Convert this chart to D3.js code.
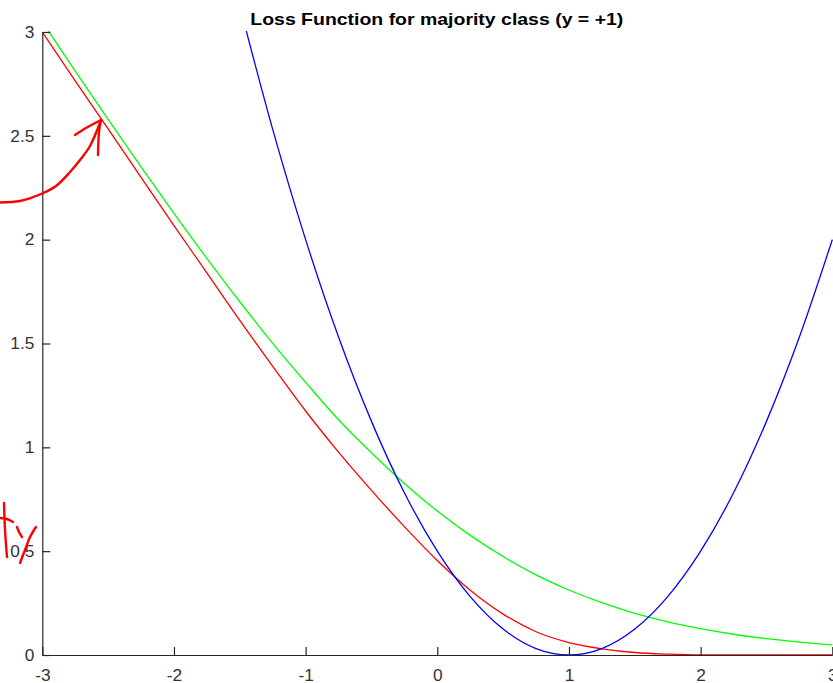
<!DOCTYPE html>
<html>
<head>
<meta charset="utf-8">
<script src="https://cdn.jsdelivr.net/npm/d3@7"></script>
<style>
  html, body { margin: 0; padding: 0; background: #fff; }
  svg { display: block; }
</style>
</head>
<body>
<svg id="chart" width="833" height="683"></svg>
<script>
// Margin (x) values shared by the green and red loss curves
const xs = [-3, -2.75, -2.5, -2.25, -2, -1.75, -1.5, -1.25, -1, -0.75, -0.5, -0.25,
            0, 0.25, 0.5, 0.75, 1, 1.25, 1.5, 1.75, 2, 2.25, 2.5, 2.75, 3];

// Logistic loss (green)
const greenLoss = [3.049, 2.812, 2.579, 2.351, 2.127, 1.910, 1.701, 1.501, 1.313, 1.133, 0.974, 0.826,
                   0.693, 0.576, 0.474, 0.386, 0.313, 0.252, 0.201, 0.160, 0.127, 0.100, 0.079, 0.062, 0.049];

// Modified loss (red)
const redLoss = [3.000, 2.765, 2.533, 2.300, 2.068, 1.840, 1.611, 1.390, 1.175, 0.977, 0.793, 0.618,
                 0.455, 0.312, 0.197, 0.112, 0.060, 0.030, 0.012, 0.004, 0.000, 0.000, 0.000, 0.000, 0.000];

// Squared loss (blue)
const blueX = [-1.5, -1.25, -1, -0.75, -0.5, -0.25, 0, 0.25, 0.5, 0.75, 1,
               1.25, 1.5, 1.75, 2, 2.25, 2.5, 2.75, 3];
const blueLoss = [3.125, 2.531, 2.000, 1.531, 1.125, 0.781, 0.500, 0.281, 0.125, 0.031, 0.000,
                  0.031, 0.125, 0.281, 0.500, 0.781, 1.125, 1.531, 2.000];

const xTicks = [-3, -2, -1, 0, 1, 2, 3];
const yTicks = [0, 0.5, 1, 1.5, 2, 2.5, 3];
const titleText = "Loss Function for majority class (y = +1)";

const svg = d3.select("#chart");
const plotLeft = 42.3, plotRight = 832.3, plotTop = 32, plotBottom = 655;

const x = d3.scaleLinear().domain([-3, 3]).range([plotLeft, plotRight]);
const y = d3.scaleLinear().domain([0, 3]).range([plotBottom, plotTop]);

svg.append("defs").append("clipPath").attr("id", "plot")
  .append("rect").attr("x", plotLeft).attr("y", plotTop - 1)
  .attr("width", plotRight - plotLeft + 2).attr("height", plotBottom - plotTop + 2);

const line = d3.line().x(d => x(d[0])).y(d => y(d[1])).curve(d3.curveMonotoneX);

const series = [
  { xv: xs, yv: greenLoss, color: "#00ff00" },
  { xv: xs, yv: redLoss, color: "#ff0000" },
  { xv: blueX, yv: blueLoss, color: "#0000ff" }
];

const curves = svg.append("g").attr("clip-path", "url(#plot)");
series.forEach(s => {
  curves.append("path")
    .datum(s.xv.map((v, i) => [v, s.yv[i]]))
    .attr("d", line)
    .attr("fill", "none")
    .attr("stroke", s.color)
    .attr("stroke-width", 1.3);
});

// Axes: ticks point inward
const axisColor = "#262626";
const fontFamily = "'Liberation Sans', Arial, Helvetica, sans-serif";

const xAxis = svg.append("g").attr("transform", `translate(0,${plotBottom})`)
  .call(d3.axisBottom(x).tickValues(xTicks).tickSizeInner(-8).tickSizeOuter(0).tickPadding(14.5)
        .tickFormat(d => String(d)));
const yAxis = svg.append("g").attr("transform", `translate(${plotLeft},0)`)
  .call(d3.axisLeft(y).tickValues(yTicks).tickSizeInner(-8).tickSizeOuter(0).tickPadding(8)
        .tickFormat(d => String(d)));

[xAxis, yAxis].forEach(g => {
  g.select(".domain").attr("stroke", axisColor).attr("stroke-width", 1.2);
  g.selectAll(".tick line").attr("stroke", axisColor).attr("stroke-width", 1.2);
  g.selectAll(".tick text").attr("fill", "#333").attr("font-size", 16).attr("font-family", fontFamily);
});
yAxis.selectAll(".tick text").attr("dy", "0.33em");

// Slightly wider glyphs for the tick labels
svg.selectAll(".tick text").each(function () {
  const w = this.getComputedTextLength();
  d3.select(this).attr("textLength", w * 1.08).attr("lengthAdjust", "spacingAndGlyphs");
});

svg.append("text")
  .attr("x", (plotLeft + plotRight) / 2 - 0.5).attr("y", 25)
  .attr("text-anchor", "middle")
  .attr("font-family", fontFamily).attr("font-weight", "bold").attr("font-size", 17)
  .attr("textLength", 373).attr("lengthAdjust", "spacingAndGlyphs")
  .attr("fill", "#000")
  .text(titleText);

// Hand-drawn red pen marks
const pen = svg.append("g").attr("fill", "none").attr("stroke", "#ff0000")
  .attr("stroke-width", 2.4).attr("stroke-linecap", "round").attr("stroke-linejoin", "round");
const smooth = d3.line().curve(d3.curveCatmullRom);
const strokes = [
  [[0, 202.5], [20, 201], [41, 194], [56, 186], [70, 172], [80, 160], [90, 146], [101, 120]],
  [[75, 135], [86, 128], [101, 120]],
  [[101, 120], [99, 132], [98, 155]],
  [[4, 503], [5, 530], [7, 557]],
  [[0, 518], [7, 519], [13, 522]],
  [[17, 527], [19, 532], [22, 537]],
  [[36, 527], [30, 537], [25, 550], [20, 563]]
];
strokes.forEach(pts => pen.append("path").attr("d", smooth(pts)));
</script>
</body>
</html>
